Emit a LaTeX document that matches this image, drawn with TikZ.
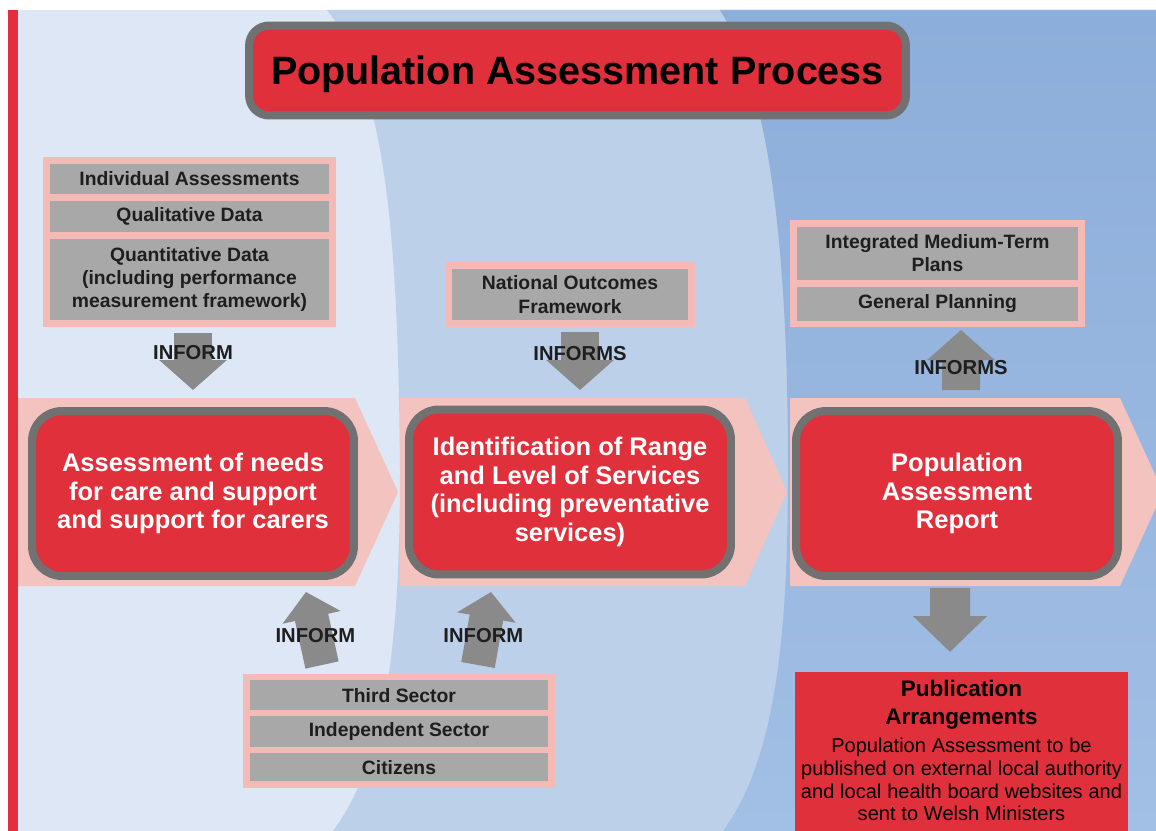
\documentclass[tikz,border=0pt]{standalone}
\usepackage{fontspec}
\setmainfont{Liberation Sans}
\usetikzlibrary{positioning, arrows.meta}

\definecolor{paleblue}{HTML}{DDE7F5}
\definecolor{midblue}{HTML}{BDD0EA}
\definecolor{deepblue}{HTML}{8CAEDA}
\definecolor{deepbluelow}{HTML}{A2BFE5}
\definecolor{boxred}{HTML}{E0303B}
\definecolor{rimgray}{HTML}{717171}
\definecolor{chevpink}{HTML}{F3C4BF}
\definecolor{framepink}{HTML}{F5BAB5}
\definecolor{cellgray}{HTML}{A8A8A8}
\definecolor{arrowgray}{HTML}{8A8A8A}
\definecolor{inkgray}{HTML}{1E1E1E}

\tikzset{
	stagebox/.style={draw=rimgray, line width=0.16cm, fill=boxred, rounded corners=0.6cm,
		minimum width=6.44cm, minimum height=3.3cm, align=center, text=white,
		font=\fontsize{14.5}{16.4}\selectfont\bfseries},
	stackcell/.style={draw=framepink, fill=cellgray, line width=0.13cm, outer sep=0pt,
		align=center, text=inkgray, font=\fontsize{11}{13.3}\selectfont\bfseries},
	bigarrow/.style={draw=arrowgray, line width=0.76cm, -{Triangle[width=1.32cm, length=0.6cm]}},
	informtag/.style={text=inkgray, font=\fontsize{11.5}{13}\selectfont\bfseries},
}

\begin{document}
\begin{tikzpicture}[x=0.02cm, y=-0.02cm]
	\useasboundingbox (0,0) rectangle (1156,831);
	\clip (0,0) rectangle (1156,831);

	% background bands
	\fill[paleblue] (18,10) rectangle (1156,831);
	\fill[midblue] (327,10) .. controls (390,90) and (398,260) .. (400,470)
		.. controls (400,650) and (385,760) .. (333,831) -- (1156,831) -- (1156,10) -- cycle;
	\shade[top color=deepblue, bottom color=deepbluelow] (720,10) .. controls (770,90) and (788,250) .. (788,470)
		.. controls (788,640) and (775,760) .. (723,831) -- (1156,831) -- (1156,10) -- cycle;
	\fill[boxred] (8,10) rectangle (18,831);

	\fill[chevpink] (18,398) -- (355,398) -- (398,492) -- (355,586) -- (18,586) -- cycle;
	\fill[chevpink] (400,398) -- (745,398) -- (787,492) -- (745,586) -- (400,586) -- cycle;
	\fill[chevpink] (790,398) -- (1120,398) -- (1163,492) -- (1120,586) -- (790,586) -- cycle;

	\node[stagebox, text=black, minimum width=13.14cm, minimum height=1.8cm, rounded corners=0.4cm,
		text depth=0pt, font=\fontsize{22.5}{27}\selectfont\bfseries] (title) at (577.5,70.5)
		{Population Assessment Process};

	\node[stagebox] (needs)    at (193,493.5)
		{Assessment of needs\\for care and support\\and support for carers};
	\node[stagebox] (services) at (570,492)
		{Identification of Range\\and Level of Services\\(including preventative\\services)};
	\node[stagebox] (report)   at (957,493.5)
		{Population\\Assessment\\Report};

	\node[stackcell, minimum width=5.73cm, minimum height=0.745cm] (indiv) at (189.5,178.9)
		{Individual Assessments};
	\node[stackcell, minimum width=5.73cm, minimum height=0.76cm, below=0pt of indiv] (qual)
		{Qualitative Data};
	\node[stackcell, minimum width=5.73cm, minimum height=1.765cm, below=0pt of qual] (quant)
		{Quantitative Data\\(including performance\\measurement framework)};

	\node[stackcell, minimum width=4.87cm, minimum height=1.17cm] (outcomes) at (570,294.5)
		{National Outcomes\\Framework};

	\node[stackcell, minimum width=5.77cm, minimum height=1.205cm] (plans) at (937.5,253.4)
		{Integrated Medium-Term\\Plans};
	\node[stackcell, minimum width=5.77cm, minimum height=0.805cm, below=0pt of plans] (planning)
		{General Planning};

	\node[stackcell, minimum width=6.11cm, minimum height=0.715cm] (third) at (399,695.1)
		{Third Sector};
	\node[stackcell, minimum width=6.11cm, minimum height=0.74cm, below=0pt of third] (independent)
		{Independent Sector};
	\node[stackcell, minimum width=6.11cm, minimum height=0.695cm, below=0pt of independent] (citizens)
		{Citizens};

	\node[fill=boxred, anchor=north, minimum width=6.66cm, minimum height=3.4cm] (publication)
		at (961.5,672) {};
	\node[anchor=north, text width=6.5cm, align=center, inner sep=0pt, text=black]
		(pubtext) at ([yshift=-0.15cm]publication.north)
		{{\fontsize{12.8}{16}\selectfont\bfseries Publication\\Arrangements\par}
		\vspace{3pt}
		{\fontsize{11.4}{13}\selectfont Population Assessment to be\\published on external local authority\\
		and local health board websites and\\sent to Welsh Ministers\par}};

	\draw[bigarrow, shorten <=0.185cm, shorten >=0.34cm] (needs.north |- quant.south) -- (needs.north)
		node[informtag, pos=0.34] (informneeds) {INFORM};
	\draw[bigarrow, shorten <=0.165cm, shorten >=0.31cm] ([xshift=0.2cm]outcomes.south) -- ([xshift=0.2cm]services.north)
		node[informtag, pos=0.36] (informservices) {INFORMS};
	\draw[bigarrow, shorten <=0.34cm, shorten >=0.125cm] ([xshift=0.08cm]report.north) -- ([xshift=0.47cm]planning.south)
		node[informtag, pos=0.47] (informplans) {INFORMS};
	\draw[bigarrow, line width=0.8cm, -{Triangle[width=1.44cm, length=0.72cm]}, shorten <=0.16cm, shorten >=0.4cm]
		([xshift=-0.14cm]report.south) -- ([xshift=-0.23cm]publication.north);

	\draw[bigarrow, line width=0.68cm, -{Triangle[width=1.16cm, length=0.52cm]}]
		([xshift=-1.54cm, yshift=0.245cm]third.north) -- ([xshift=2.26cm, yshift=-0.24cm]needs.south)
		node[informtag, pos=0.41] (informleft) {INFORM};
	\draw[bigarrow, line width=0.68cm, -{Triangle[width=1.16cm, length=0.52cm]}]
		([xshift=1.58cm, yshift=0.245cm]third.north) -- ([xshift=-1.58cm, yshift=-0.27cm]services.south)
		node[informtag, pos=0.41] (informright) {INFORM};
\end{tikzpicture}
\end{document}
